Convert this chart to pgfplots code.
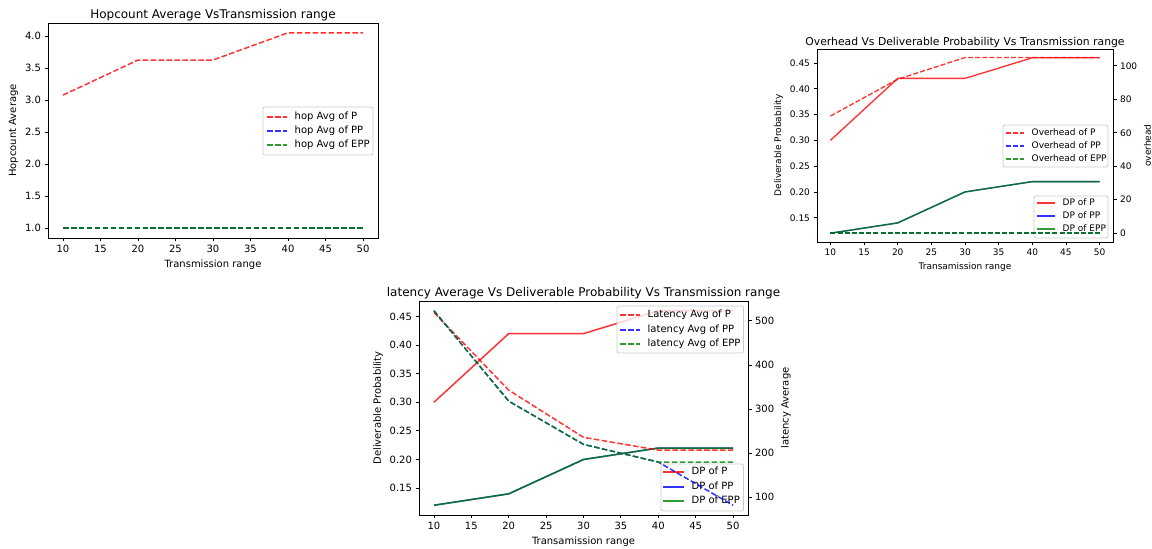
\documentclass[border=0pt]{standalone}
\usepackage{fontspec}
\setmainfont{DejaVu Sans}
\usepackage{pgfplots}
\pgfplotsset{compat=1.18}

\definecolor{mred}{rgb}{1,0,0}
\definecolor{mblue}{rgb}{0,0,1}
\definecolor{mgreen}{rgb}{0,0.5,0}
% colours at alpha 0.8 on white, for the legend handles
\definecolor{lred}{rgb}{1,0.2,0.2}
\definecolor{lblue}{rgb}{0.2,0.2,1}
\definecolor{lgreen}{rgb}{0.2,0.6,0.2}

\newcommand\fsA{\fontsize{10}{12}\selectfont}
\newcommand\fsB{\fontsize{9}{11}\selectfont}

\tikzset{
  dash10/.style={line width=1.5pt, dash pattern=on 5.55pt off 2.4pt},
  solid10/.style={line width=1.5pt},
  dash9/.style={line width=1.35pt, dash pattern=on 5pt off 2.16pt},
  solid9/.style={line width=1.35pt},
}

\pgfplotsset{
  mpl/.style={
    scale only axis,
    anchor=south west,
    xmin=8, xmax=52,
    xtick={10,15,...,50},
    tick align=outside,
    major tick length=3.5pt,
    every tick/.style={black, line width=0.8pt},
    axis line style={line width=0.8pt},
    /pgf/number format/assume math mode=true,
    title style={yshift=-8pt},
  },
  fs10/.style={
    tick label style={font=\fsA},
    label style={font=\fsA},
    title style={font=\fontsize{12}{14}\selectfont},
  },
  fs9/.style={
    tick label style={font=\fsB},
    label style={font=\fsB},
    title style={font=\fontsize{10.8}{13}\selectfont},
  },
  dp2/.style={yticklabel style={/pgf/number format/.cd, fixed, fixed zerofill, precision=2}},
}

% legends, placed in picture pixels (y measured from the top)
\newcommand{\legbox}[4]{%
  \draw[black!20, fill=white, fill opacity=0.8, rounded corners=2pt, line width=0.8pt]
    ({#1pt},{549pt-#2pt}) rectangle ({#3pt},{549pt-#4pt});}
\newcommand{\legrow}[6]{%
  \draw[#4] ({#1pt},{549pt-#3pt}) -- ({#2pt},{549pt-#3pt});
  \node[anchor=mid west, inner sep=0pt, font=#5] at ({#2pt+7.5pt},{549pt-#3pt}) {#6};}

\begin{document}
\begin{tikzpicture}
\useasboundingbox (0,0) rectangle (1152pt,549pt);

% Hopcount
\begin{axis}[mpl, fs10,
    at={(48pt,311pt)}, width=330pt, height=215pt,
    ymin=0.8475, ymax=4.2025,
    ytick={1.0,1.5,...,4.0},
    yticklabel style={/pgf/number format/.cd, fixed, fixed zerofill, precision=1},
    xtick pos=bottom, ytick pos=left,
    title={Hopcount Average VsTransmission range},
    xlabel={Transmission range},
    ylabel={Hopcount Average},
]
\addplot[dash10, mred, opacity=0.8] coordinates {(10,3.077) (20,3.625) (30,3.625) (40,4.05) (50,4.05)};
\addplot[dash10, mblue, opacity=0.8] coordinates {(10,1) (20,1) (30,1) (40,1) (50,1)};
\addplot[dash10, mgreen, opacity=0.8] coordinates {(10,1) (20,1) (30,1) (40,1) (50,1)};
\end{axis}
\legbox{263}{107}{373}{155}
\legrow{267}{287}{117}{dash10, lred}{\fsA}{hop Avg of P}
\legrow{267}{287}{131}{dash10, lblue}{\fsA}{hop Avg of PP}
\legrow{267}{287}{145}{dash10, lgreen}{\fsA}{hop Avg of EPP}

% Overhead vs DP - left axis
\begin{axis}[mpl, fs9, dp2,
    at={(817pt,307pt)}, width=296pt, height=193pt,
    ymin=0.103, ymax=0.477,
    ytick={0.15,0.20,...,0.46},
    xtick pos=bottom, ytick pos=left,
    title={Overhead Vs Deliverable Probability Vs Transmission range},
    xlabel={Transamission range},
    ylabel={Deliverable Probability},
]
\addplot[solid9, mred, opacity=0.8] coordinates {(10,0.30) (20,0.42) (30,0.42) (40,0.46) (50,0.46)};
\addplot[solid9, mblue, opacity=0.8] coordinates {(10,0.12) (20,0.14) (30,0.20) (40,0.22) (50,0.22)};
\addplot[solid9, mgreen, opacity=0.8] coordinates {(10,0.12) (20,0.14) (30,0.20) (40,0.22) (50,0.22)};
\end{axis}
\legbox{1034}{196}{1108}{238}
\legrow{1037}{1055}{203}{solid9, lred}{\fsB}{DP of P}
\legrow{1037}{1055}{216}{solid9, lblue}{\fsB}{DP of PP}
\legrow{1037}{1055}{229}{solid9, lgreen}{\fsB}{DP of EPP}
% Overhead vs DP - right axis
\begin{axis}[mpl, fs9,
    at={(817pt,307pt)}, width=296pt, height=193pt,
    axis x line=none, axis y line*=right,
    ymin=-5.39, ymax=110.11,
    ytick={0,20,...,100},
    ylabel={overhead},
]
\addplot[dash9, mred, opacity=0.8] coordinates {(10,70) (20,92) (30,105) (40,105) (50,105)};
\addplot[dash9, mblue, opacity=0.8] coordinates {(10,0) (20,0) (30,0) (40,0) (50,0)};
\addplot[dash9, mgreen, opacity=0.8] coordinates {(10,0) (20,0) (30,0) (40,0) (50,0)};
\end{axis}
\legbox{1003}{125}{1108}{167}
\legrow{1006}{1024}{133}{dash9, lred}{\fsB}{Overhead of P}
\legrow{1006}{1024}{146}{dash9, lblue}{\fsB}{Overhead of PP}
\legrow{1006}{1024}{159}{dash9, lgreen}{\fsB}{Overhead of EPP}

% Latency vs DP - left axis
\begin{axis}[mpl, fs10, dp2,
    at={(419pt,34pt)}, width=329pt, height=214pt,
    ymin=0.103, ymax=0.477,
    ytick={0.15,0.20,...,0.46},
    xtick pos=bottom, ytick pos=left,
    title={latency Average Vs Deliverable Probability Vs Transmission range},
    xlabel={Transamission range},
    ylabel={Deliverable Probability},
]
\addplot[solid10, mred, opacity=0.8] coordinates {(10,0.30) (20,0.42) (30,0.42) (40,0.46) (50,0.46)};
\addplot[solid10, mblue, opacity=0.8] coordinates {(10,0.12) (20,0.14) (30,0.20) (40,0.22) (50,0.22)};
\addplot[solid10, mgreen, opacity=0.8] coordinates {(10,0.12) (20,0.14) (30,0.20) (40,0.22) (50,0.22)};
\end{axis}
\legbox{661}{464}{743.5}{511}
\legrow{663}{684}{472}{solid10, lred}{\fsA}{DP of P}
\legrow{663}{684}{487}{solid10, lblue}{\fsA}{DP of PP}
\legrow{663}{684}{501}{solid10, lgreen}{\fsA}{DP of EPP}
% Latency vs DP - right axis
\begin{axis}[mpl, fs10,
    at={(419pt,34pt)}, width=329pt, height=214pt,
    axis x line=none, axis y line*=right,
    ymin=59.95, ymax=545.05,
    ytick={100,200,...,500},
    ylabel={latency Average},
]
\addplot[dash10, mred, opacity=0.8] coordinates {(10,519) (20,343) (30,236) (40,207) (50,207)};
\addplot[dash10, mblue, opacity=0.8] coordinates {(10,523) (20,318) (30,220) (40,180) (50,82)};
\addplot[dash10, mgreen, opacity=0.8] coordinates {(10,523) (20,318) (30,220) (40,180) (50,180)};
\end{axis}
\legbox{617}{306}{743.5}{353}
\legrow{620}{640}{315}{dash10, lred}{\fsA}{Latency Avg of P}
\legrow{620}{640}{330}{dash10, lblue}{\fsA}{latency Avg of PP}
\legrow{620}{640}{344}{dash10, lgreen}{\fsA}{latency Avg of EPP}
\end{tikzpicture}
\end{document}
